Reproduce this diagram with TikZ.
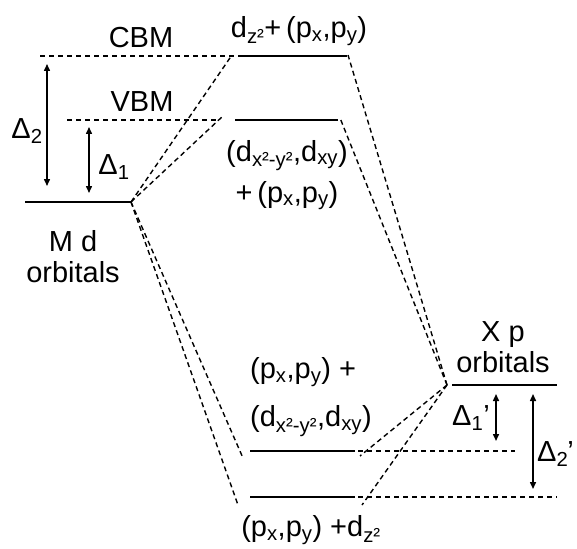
\documentclass[tikz,border=0pt]{standalone}
\usepackage{fontspec}
\setmainfont{Liberation Sans}
\usetikzlibrary{arrows.meta}
\newcommand{\sbs}[1]{\textsubscript{#1}}

\begin{document}
\begin{tikzpicture}[x=1pt, y=-1pt,
    level/.style={line width=2pt},
    conn/.style={dashed, line width=1.4pt, dash pattern=on 5pt off 3.5pt},
    guide/.style={dashed, line width=1.2pt, dash pattern=on 5pt off 4pt},
    gap/.style={{Triangle[length=7pt,width=6pt]}-{Triangle[length=7pt,width=6pt]}, line width=1.5pt},
    lab/.style={font=\fontsize{29}{31}\selectfont, inner sep=0pt},
  ]
  \useasboundingbox (0,0) rectangle (577,548);

  % energy levels
  \coordinate (md-l) at (25,202);   \coordinate (md-r) at (131,202);
  \coordinate (cbm-l) at (238,56);  \coordinate (cbm-r) at (347,56);
  \coordinate (vbm-l) at (235,120); \coordinate (vbm-r) at (338,120);
  \coordinate (bb-l) at (250,451);  \coordinate (bb-r) at (355,451);
  \coordinate (nb-l) at (250,497);  \coordinate (nb-r) at (355,497);
  \coordinate (xp-l) at (452,385);  \coordinate (xp-r) at (557,385);

  \draw[level] (md-l) -- (md-r);
  \draw[level] (cbm-l) -- (cbm-r);
  \draw[level] (vbm-l) -- (vbm-r);
  \draw[level] (bb-l) -- (bb-r);
  \draw[level] (nb-l) -- (nb-r);
  \draw[level] (xp-l) -- (xp-r);

  % band edges
  \coordinate (cbm-g) at (40,56);
  \coordinate (vbm-g) at (67,120);
  \coordinate (bb-g) at (515,451);
  \coordinate (nb-g) at (557,497);
  \draw[guide] (cbm-g) -- ([xshift=-4pt]cbm-l);
  \draw[guide] (vbm-g) -- ([xshift=-16pt]vbm-l);
  \draw[guide] ([xshift=3pt]bb-r) -- (bb-g);
  \draw[guide] ([xshift=3pt]nb-r) -- (nb-g);

  % mixing
  \foreach \t/\dx/\dy in {cbm-l/-6/1, vbm-l/-12/4, bb-l/-7/-7, nb-l/-12/-8}
    \draw[conn] (md-r) -- ([xshift=\dx pt, yshift=\dy pt]\t);
  \foreach \t/\dx/\dy in {cbm-r/1/1, vbm-r/2/2, bb-r/5/-5, nb-r/7/-8}
    \draw[conn] ([xshift=-5pt]xp-l) -- ([xshift=\dx pt, yshift=\dy pt]\t);

  % gaps
  \coordinate (d2-t) at (47,64);   \coordinate (d2-b) at (47,186);
  \coordinate (d1-t) at (89,127);  \coordinate (d1-b) at (89,193);
  \coordinate (e1-t) at (496,394); \coordinate (e1-b) at (496,441);
  \coordinate (e2-t) at (533,394); \coordinate (e2-b) at (533,489);
  \draw[gap] (d2-t) -- (d2-b);
  \draw[gap] (d1-t) -- (d1-b);
  \draw[gap] (e1-t) -- (e1-b);
  \draw[gap] (e2-t) -- (e2-b);

  \node[lab] (cbm) at (141,38) {CBM};
  \node[lab] (vbm) at (142,102) {VBM};
  \node[lab] (d2) at (27,131) {Δ\sbs{2}};
  \node[lab] (d1) at (114,167) {Δ\sbs{1}};
  \node[lab, align=center] (md) at (73,257) {M d\\orbitals};
  \node[lab] (top) at (299,31) {d\sbs{z²}+\,(p\sbs{x},p\sbs{y})};
  \node[lab, align=center] (mid) at (287,175) {(d\sbs{x²-y²},d\sbs{xy})\\[10pt]+\,(p\sbs{x},p\sbs{y})};
  \node[lab, align=left, anchor=west] (bond) at (250,397) {(p\sbs{x},p\sbs{y}) +\\[17pt](d\sbs{x²-y²},d\sbs{xy})};
  \node[lab] (low) at (311,530) {(p\sbs{x},p\sbs{y}) +d\sbs{z²}};
  \node[lab, align=center] (xp) at (503,347) {X p\\orbitals};
  \node[lab] (e1) at (471,418) {Δ\sbs{1}'};
  \node[lab, anchor=west] (e2) at (537,454) {Δ\sbs{2}\kern-1pt'};
\end{tikzpicture}
\end{document}
